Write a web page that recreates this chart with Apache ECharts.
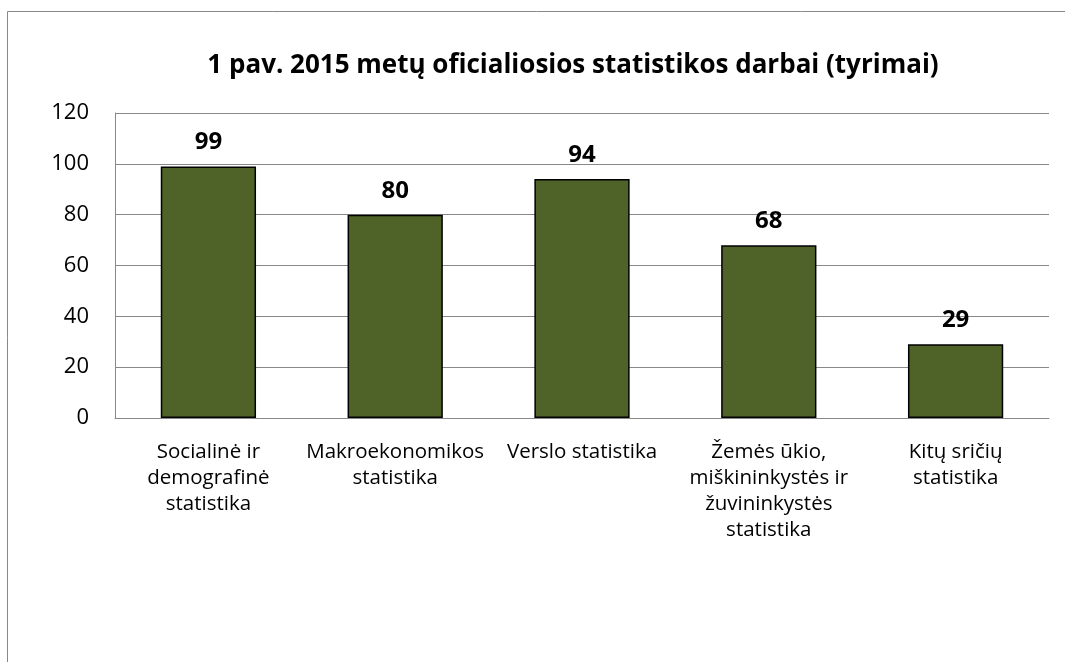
<!DOCTYPE html>
<html>
<head>
<meta charset="utf-8">
<script src="https://cdn.jsdelivr.net/npm/echarts@6/dist/echarts.min.js"></script>
<style>
  html, body { margin: 0; padding: 0; background: #fff; }
  #chart { width: 1065px; height: 662px; }
</style>
</head>
<body>
<div id="chart"></div>
<script>
var categories = [
  'Socialinė ir\ndemografinė\nstatistika',
  'Makroekonomikos\nstatistika',
  'Verslo statistika',
  'Žemės ūkio,\nmiškininkystės ir\nžuvininkystės\nstatistika',
  'Kitų sričių\nstatistika'
];
var values = [99, 80, 94, 68, 29];
var titleText = '1 pav. 2015 metų oficialiosios statistikos darbai (tyrimai)';

var font = '"Open Sans", "DejaVu Sans", sans-serif';
var myChart = echarts.init(document.getElementById('chart'));
var option = {
  animation: false,
  textStyle: { fontFamily: font },
  graphic: [{
    type: 'rect',
    shape: { x: 7.5, y: 11.5, width: 1100, height: 700 },
    style: { fill: 'none', stroke: '#888', lineWidth: 1 },
    silent: true
  }],
  title: {
    text: titleText,
    left: 568,
    textAlign: 'center',
    top: 48,
    textStyle: { fontFamily: font, fontSize: 26, fontWeight: 'bold', color: '#000' }
  },
  grid: { left: 115, right: 16, top: 113, bottom: 244 },
  xAxis: {
    type: 'category',
    data: categories,
    axisLine: { lineStyle: { color: '#888' } },
    axisTick: { show: false },
    axisLabel: {
      interval: 0,
      margin: 21,
      fontFamily: font,
      fontSize: 20.5,
      lineHeight: 26,
      color: '#000'
    }
  },
  yAxis: {
    type: 'value',
    min: 0,
    max: 120,
    interval: 20,
    axisLine: { show: true, lineStyle: { color: '#888' } },
    axisTick: { show: false },
    axisLabel: { fontFamily: font, fontSize: 22, color: '#000', margin: 26 },
    splitLine: { lineStyle: { color: '#888' } }
  },
  series: [{
    type: 'bar',
    data: values,
    barWidth: '51%',
    itemStyle: { color: '#4F6228', borderColor: '#000', borderWidth: 1.5 },
    label: {
      show: true,
      position: 'top',
      distance: 12,
      fontFamily: font,
      fontSize: 24,
      fontWeight: 'bold',
      color: '#000'
    }
  }]
};
myChart.setOption(option);
</script>
</body>
</html>
